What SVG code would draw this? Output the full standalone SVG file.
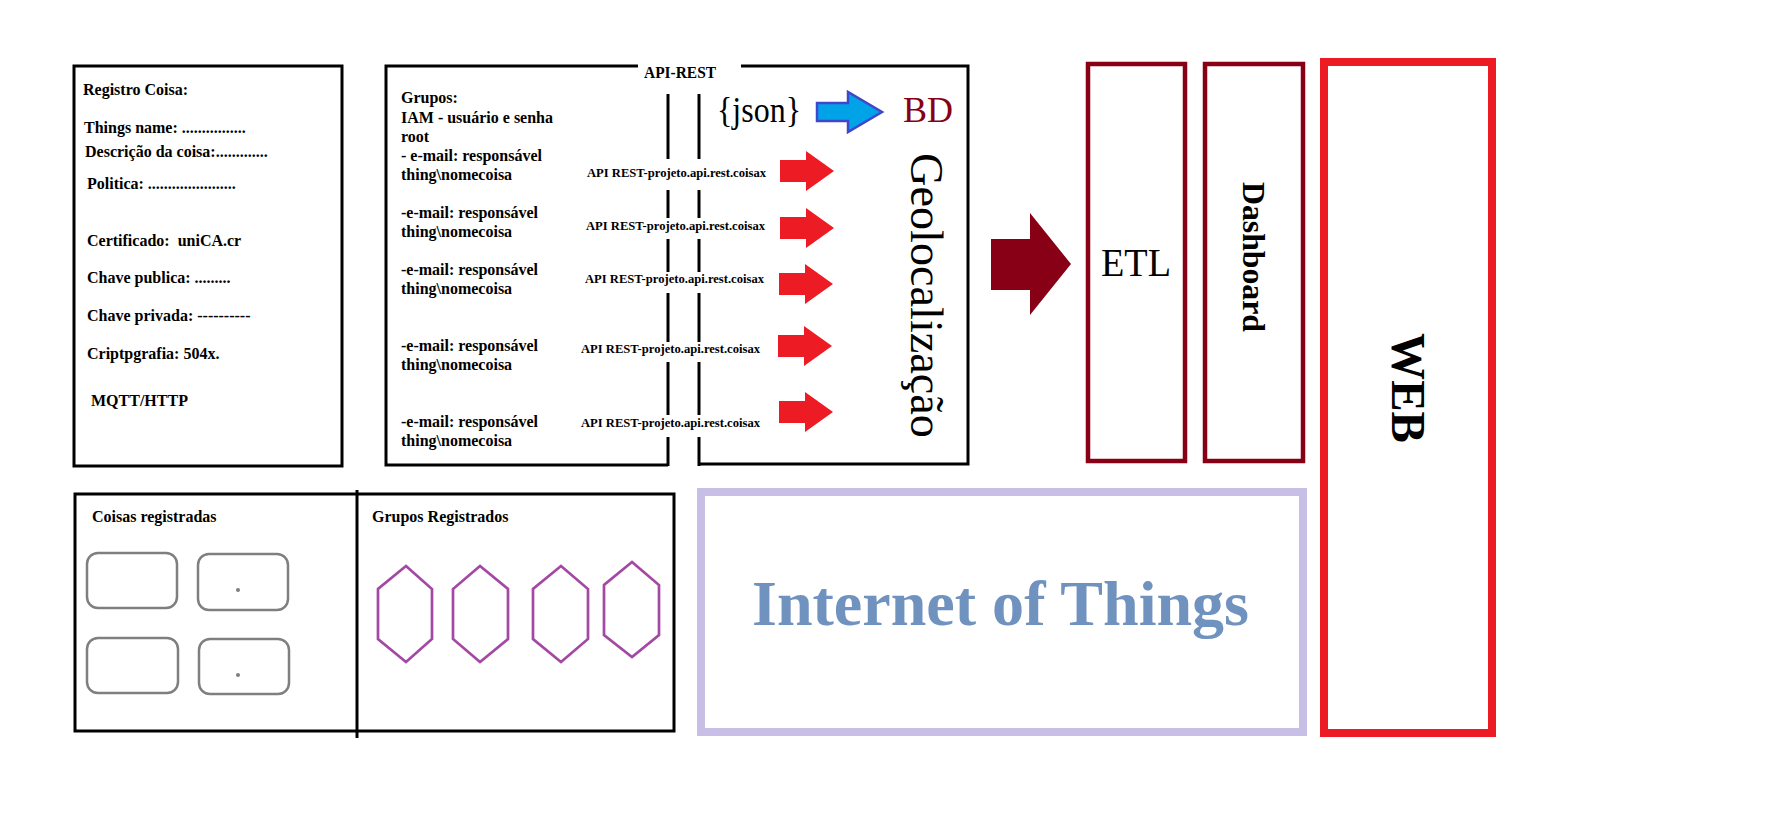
<svg xmlns="http://www.w3.org/2000/svg" width="1786" height="828" viewBox="0 0 1786 828" font-family="'Liberation Serif','Times New Roman',serif">
<style>
text{font-family:"Liberation Serif","Times New Roman",serif;fill:#000}
.b{font-weight:bold}
.t16{font-size:16px;font-weight:bold}
.api{font-size:12.5px;font-weight:bold}
.box{fill:none;stroke:#000;stroke-width:3}
.ln{stroke:#000;stroke-width:3;fill:none}
.red{fill:#ed1c24}
.thing{fill:none;stroke:#7f7f7f;stroke-width:2.5}
.hex{fill:none;stroke:#a349a4;stroke-width:2.7}
.dr{fill:none;stroke:#880015;stroke-width:4.5}
</style>
<defs>
<polygon id="ra" points="0,-11 26,-11 26,-20 54,0 26,20 26,11 0,11"/>
</defs>
<rect width="1786" height="828" fill="#fff"/>

<g id="registro">
<rect class="box" x="74" y="66" width="268" height="400"/>
<text class="t16" x="83" y="95">Registro Coisa:</text>
<text class="t16" x="84" y="133">Things name: ................</text>
<text class="t16" x="85" y="157">Descrição da coisa:.............</text>
<text class="t16" x="87" y="189">Politica: ......................</text>
<text class="t16" x="87" y="246" xml:space="preserve">Certificado:  uniCA.cr</text>
<text class="t16" x="87" y="283">Chave publica: .........</text>
<text class="t16" x="87" y="321">Chave privada: ----------</text>
<text class="t16" x="87" y="359">Criptpgrafia: 504x.</text>
<text class="t16" x="91" y="406">MQTT/HTTP</text>
</g>

<g id="api-rest">
<path class="ln" d="M638,66 H386 V465 H668"/>
<path class="ln" d="M741,66 H968 V464 H699"/>
<path class="ln" d="M668,94 V159 M668,190 V218 M668,239 V272 M668,293 V342 M668,362 V415 M668,437 V466"/>
<path class="ln" d="M699,94 V159 M699,190 V218 M699,239 V272 M699,293 V342 M699,362 V415 M699,437 V466"/>
<text class="t16" x="644" y="78" textLength="72" lengthAdjust="spacingAndGlyphs">API-REST</text>
<text class="t16" x="401" y="103">Grupos:</text>
<text class="t16" x="401" y="123">IAM - usuário e senha</text>
<text class="t16" x="401" y="142">root</text>
<text class="t16" x="401" y="161">- e-mail: responsável</text>
<text class="t16" x="401" y="180">thing\nomecoisa</text>
<text class="t16" x="401" y="218">-e-mail: responsável</text>
<text class="t16" x="401" y="237">thing\nomecoisa</text>
<text class="t16" x="401" y="275">-e-mail: responsável</text>
<text class="t16" x="401" y="294">thing\nomecoisa</text>
<text class="t16" x="401" y="351">-e-mail: responsável</text>
<text class="t16" x="401" y="370">thing\nomecoisa</text>
<text class="t16" x="401" y="427">-e-mail: responsável</text>
<text class="t16" x="401" y="446">thing\nomecoisa</text>
<text class="api" x="587" y="177" textLength="179" lengthAdjust="spacingAndGlyphs">API REST-projeto.api.rest.coisax</text>
<text class="api" x="586" y="230" textLength="179" lengthAdjust="spacingAndGlyphs">API REST-projeto.api.rest.coisax</text>
<text class="api" x="585" y="283" textLength="179" lengthAdjust="spacingAndGlyphs">API REST-projeto.api.rest.coisax</text>
<text class="api" x="581" y="353" textLength="179" lengthAdjust="spacingAndGlyphs">API REST-projeto.api.rest.coisax</text>
<text class="api" x="581" y="427" textLength="179" lengthAdjust="spacingAndGlyphs">API REST-projeto.api.rest.coisax</text>
<use href="#ra" class="red" x="780" y="171"/>
<use href="#ra" class="red" x="780" y="228"/>
<use href="#ra" class="red" x="779" y="284"/>
<use href="#ra" class="red" x="778" y="346"/>
<use href="#ra" class="red" x="779" y="412"/>
<text x="717" y="122" font-size="35" textLength="84" lengthAdjust="spacingAndGlyphs">{json}</text>
<polygon points="817,103 848,103 848,92 882,112 848,132 848,121 817,121" fill="#00a2e8" stroke="#3f48cc" stroke-width="2.5"/>
<text x="903" y="122" font-size="35" style="fill:#880015" textLength="50" lengthAdjust="spacingAndGlyphs">BD</text>
<text transform="translate(911,153) rotate(90)" font-size="47" textLength="285" lengthAdjust="spacingAndGlyphs">Geolocalização</text>
</g>

<g id="connectors">
<polygon points="991,239 1030,239 1030,213 1071,264 1030,315 1030,290 991,290" fill="#880015"/>
</g>

<g id="etl">
<rect class="dr" x="1088" y="64" width="97" height="397"/>
<text x="1101" y="276" font-size="40" textLength="70" lengthAdjust="spacingAndGlyphs">ETL</text>
</g>

<g id="dashboard">
<rect class="dr" x="1205" y="64" width="98" height="397"/>
<text class="b" transform="translate(1243,182) rotate(90)" font-size="32" textLength="150" lengthAdjust="spacingAndGlyphs">Dashboard</text>
</g>

<g id="web">
<rect x="1324" y="62" width="168" height="671" fill="none" stroke="#ed1c24" stroke-width="8"/>
<text class="b" transform="translate(1392,333) rotate(90)" font-size="48" textLength="110" lengthAdjust="spacingAndGlyphs">WEB</text>
</g>

<g id="iot">
<rect x="701" y="492" width="602" height="240" fill="none" stroke="#c8bfe7" stroke-width="8"/>
<text class="b" x="752" y="625" font-size="64" style="fill:#7092be" textLength="497" lengthAdjust="spacingAndGlyphs">Internet of Things</text>
</g>

<g id="registrados">
<rect class="box" x="75" y="494" width="599" height="237"/>
<line class="ln" x1="357" y1="490" x2="357" y2="738"/>
<text class="t16" x="92" y="522">Coisas registradas</text>
<text class="t16" x="372" y="522">Grupos Registrados</text>
</g>

<g id="coisa1"><rect class="thing" x="87" y="553" width="90" height="55" rx="11"/></g>
<g id="coisa2"><rect class="thing" x="198" y="554" width="90" height="56" rx="11"/><circle cx="238" cy="590" r="2" fill="#7f7f7f"/></g>
<g id="coisa3"><rect class="thing" x="87" y="638" width="91" height="55" rx="11"/></g>
<g id="coisa4"><rect class="thing" x="199" y="639" width="90" height="55" rx="11"/><circle cx="238" cy="675" r="2" fill="#7f7f7f"/></g>

<g id="grupo1"><polygon class="hex" points="406,566 378,589 378,639 406,662 432,639 432,589"/></g>
<g id="grupo2"><polygon class="hex" points="480,566 453,589 453,639 480,662 508,639 508,589"/></g>
<g id="grupo3"><polygon class="hex" points="561,566 533,589 533,639 561,662 588,639 588,589"/></g>
<g id="grupo4"><polygon class="hex" points="632,562 604,585 604,635 632,657 659,635 659,585"/></g>
</svg>
